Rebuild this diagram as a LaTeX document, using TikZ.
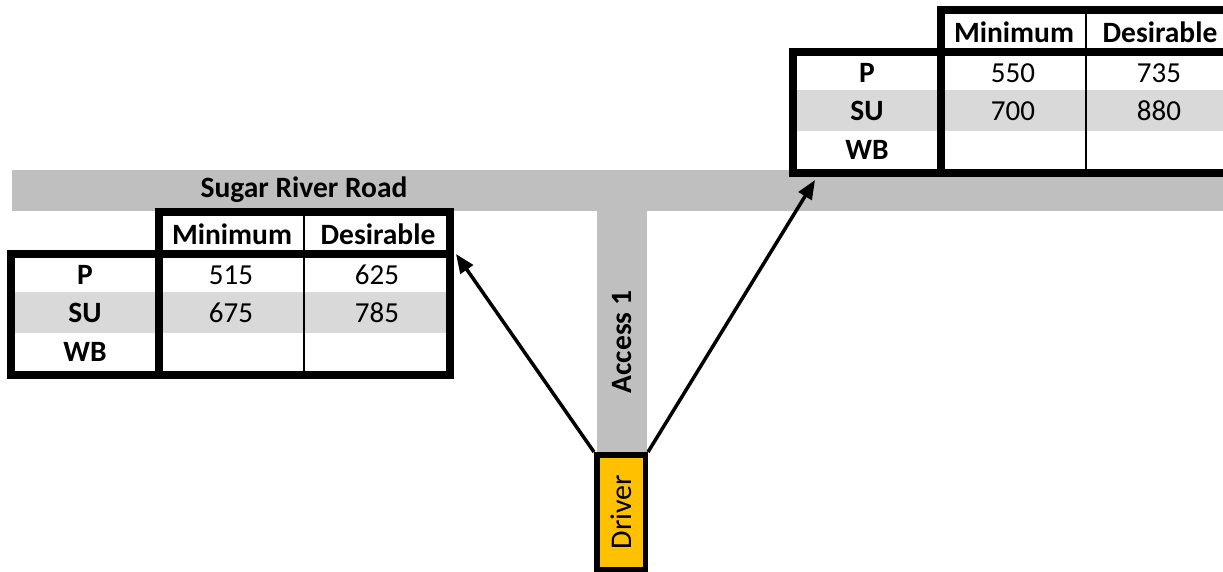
\documentclass[tikz,border=0pt]{standalone}
\usepackage{fontspec}
\setmainfont{Carlito}
\usetikzlibrary{arrows.meta}
\definecolor{roadgray}{HTML}{BFBFBF}
\definecolor{rowgray}{HTML}{D9D9D9}
\definecolor{driverorange}{HTML}{FFC000}
\newcommand\mytable[4]{%
  \fill[rowgray] (11,292) rectangle (450,333);
  \draw[tabthick] (11,254) rectangle (450,375);
  \draw[tabthick] (158.5,212) rectangle (450,254);
  \draw[tabthick] (158.5,254) -- (158.5,375);
  \draw[tabthin] (304,212) -- (304,375);
  \node[hd] (minh) at (232,234) {Minimum};
  \node[hd] (desh) at (378,234) {Desirable};
  \node[hd] (p) at (85,275) {P};
  \node[hd] (su) at (85,313) {SU};
  \node[hd] (wb) at (85,352) {WB};
  \node[val] (pmin) at (231,275) {#1};
  \node[val] (pdes) at (377,275) {#2};
  \node[val] (sumin) at (231,313) {#3};
  \node[val] (sudes) at (377,313) {#4};
}
\begin{document}
\begin{tikzpicture}[x=1pt,y=-1pt,
  tabthick/.style={line width=8pt},
  tabthin/.style={line width=2.5pt},
  hd/.style={font=\fontsize{29.5}{34}\selectfont\bfseries, inner sep=0pt},
  val/.style={font=\fontsize{29}{34}\selectfont, inner sep=0pt},
  arrowline/.style={line width=3.5pt, -{Triangle[length=19pt,width=15pt]}}]
\useasboundingbox (0,0) rectangle (1223,572);
\clip (0,0) rectangle (1223,572);
% roads
\fill[roadgray] (12,170) rectangle (1223,211);
\fill[roadgray] (597,211) rectangle (647,455);
\node[hd] (road) at (304,190) {Sugar River Road};
\node[hd, rotate=90] (access) at (622,342) {Access 1};
% tables
\begin{scope}[name prefix=L-]
  \mytable{515}{625}{675}{785}
\end{scope}
\begin{scope}[shift={(782,-202)}, name prefix=R-]
  \mytable{550}{735}{700}{880}
\end{scope}
\coordinate (lefttip) at (456,254);
\coordinate (righttip) at (815,180);
% driver
\node[draw, line width=5.5pt, fill=driverorange, minimum width=48.5pt, minimum height=114.5pt, inner sep=0pt] (driver) at (621,512) {};
\node[font=\fontsize{30}{34}\selectfont, inner sep=0pt, rotate=90] (drivertext) at (driver.center) {Driver};
\draw[arrowline] (driver.north west) -- (lefttip);
\draw[arrowline] (driver.north east) -- (righttip);
\end{tikzpicture}
\end{document}
